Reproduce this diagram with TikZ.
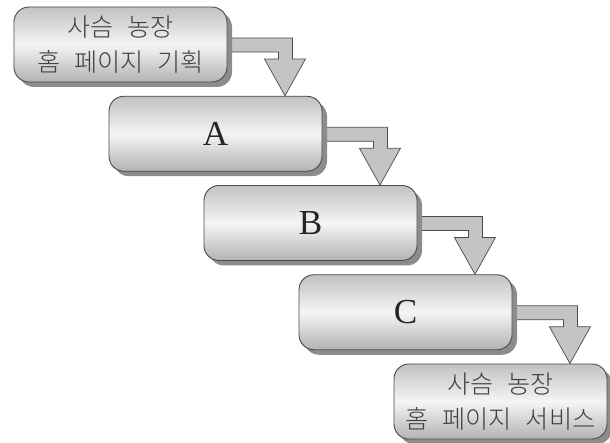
\documentclass[tikz,border=0pt]{standalone}
\usepackage{fontspec}
\setmainfont{Liberation Serif}
\newfontfamily\kofont[WordSpace=2.5]{Noto Sans CJK KR Light}
\usetikzlibrary{calc,shadows,backgrounds}

\tikzset{
  stage/.style={draw=black!70, line width=0.8pt, rounded corners=4.5mm,
    minimum width=63.9mm, minimum height=22.5mm, inner sep=0pt,
    top color=black!24, bottom color=black!30, middle color=black!4,
    drop shadow={shadow xshift=1.5mm, shadow yshift=-1.5mm, fill=black!45, opacity=1},
    font=\fontsize{30}{30}\selectfont, text=black!85},
  kotext/.style={font=\kofont\fontsize{21.5}{30}\selectfont, align=center, text=black!75},
  flow/.style={draw=black!70, line width=0.6pt, fill=black!23},
}

\begin{document}
\begin{tikzpicture}[x=0.3mm,y=-0.3mm]
\useasboundingbox (0,0) rectangle (610,443);
% stages
\node[stage, kotext] (plan) at (120.5,44.5) {사슴 농장\\홈 페이지 기획};
\node[stage] (A) at (215.5,133.75) {A};
\node[stage] (B) at (310.5,223) {B};
\node[stage] (C) at (405.5,312.25) {C};
\node[stage, kotext] (serv) at (500.5,401.5) {사슴 농장\\홈 페이지 서비스};
% elbow arrows
\begin{scope}[on background layer]
\foreach \src/\dst in {plan/A, A/B, B/C, C/serv}{
  \coordinate (tip) at ($(\src.north east)+(57.5,0)$);
  \draw[flow] ($(\src.north east)+(-10,31.5)$) -- ++(75,0) -- ++(0,21) -- ++(13,0)
    -- (tip |- \dst.north) -- ($(\src.north east)+(37,52.5)$) -- ++(14,0) -- ++(0,-7)
    -- ($(\src.north east)+(-10,45.5)$) -- cycle;
}
\end{scope}
\end{tikzpicture}
\end{document}
